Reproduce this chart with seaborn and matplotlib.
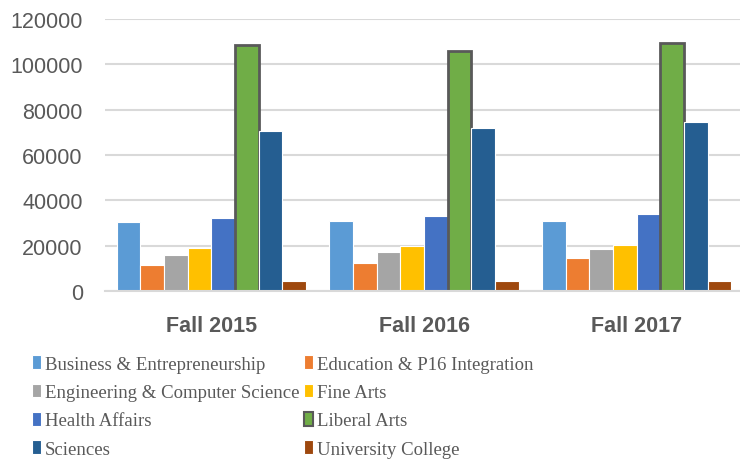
import pandas as pd
import seaborn as sns
import matplotlib.pyplot as plt

terms = ["Fall 2015", "Fall 2016", "Fall 2017"]
colleges = ["Business & Entrepreneurship", "Education & P16 Integration",
            "Engineering & Computer Science", "Fine Arts", "Health Affairs",
            "Liberal Arts", "Sciences", "University College"]

business = [30500, 30700, 30800]
education = [11500, 12500, 14700]
engineering = [15900, 17300, 18400]
fine_arts = [18800, 20000, 20300]
health = [32100, 33200, 34000]
liberal_arts = [108600, 105700, 109400]
sciences = [70400, 71900, 74400]
university = [4300, 4500, 4300]

colors = ["#5B9BD5", "#ED7D31", "#A5A5A5", "#FFC000",
          "#4472C4", "#70AD47", "#255E91", "#9E480E"]

series = [business, education, engineering, fine_arts,
          health, liberal_arts, sciences, university]
rows = []
for college, vals in zip(colleges, series):
    for term, v in zip(terms, vals):
        rows.append({"term": term, "college": college, "students": v})
df = pd.DataFrame(rows)

sns.set_theme(style="white")
plt.rcParams["font.family"] = ["Liberation Sans", "DejaVu Sans"]

fig = plt.figure(figsize=(7.4, 4.6), dpi=100)
ax = fig.add_axes([0.142, 0.365, 0.862, 0.5915])

sns.barplot(data=df, x="term", y="students", hue="college",
            hue_order=colleges, order=terms, palette=colors, saturation=1,
            width=0.89, edgecolor="white", linewidth=0.8, ax=ax)

# Liberal Arts bars get a dark outline
for bar in ax.containers[5]:
    bar.set_edgecolor("#595959")
    bar.set_linewidth(2)

ax.set_ylim(0, 120000)
ax.set_yticks(range(0, 120001, 20000))
ax.yaxis.grid(True, color="#D9D9D9", linewidth=1.5)
ax.set_axisbelow(True)
for s in ["top", "right", "left"]:
    ax.spines[s].set_visible(False)
ax.spines["bottom"].set_color("#D9D9D9")
ax.spines["bottom"].set_linewidth(1.5)
ax.tick_params(axis="both", length=0)
ax.tick_params(axis="y", labelsize=15.5, labelcolor="#595959", pad=16)
ax.tick_params(axis="x", labelsize=15.5, labelcolor="#595959", pad=17)
for lbl in ax.get_xticklabels():
    lbl.set_fontweight("bold")
ax.set_xlabel("")
ax.set_ylabel("")

handles, labels = ax.get_legend_handles_labels()
ax.legend_.remove()
handles[5].set_edgecolor("#595959")
handles[5].set_linewidth(1.5)
order = [0, 2, 4, 6, 1, 3, 5, 7]
fig.legend([handles[i] for i in order], [labels[i] for i in order],
           loc="upper left", bbox_to_anchor=(0.02, 0.262), ncol=2,
           frameon=False, handlelength=0.5, handleheight=0.75,
           handletextpad=0.2, columnspacing=0.25, labelspacing=0.58,
           prop={"family": "Liberation Serif", "size": 13.5},
           labelcolor="#595959")

fig.savefig("out.png", dpi=100)
